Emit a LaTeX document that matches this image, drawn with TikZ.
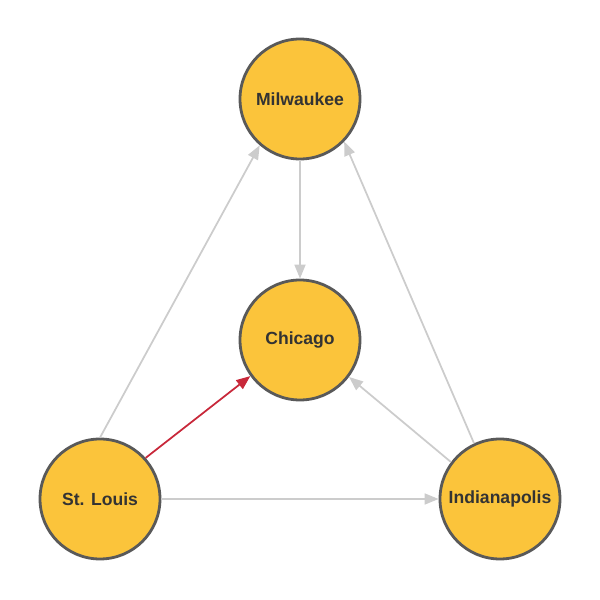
\documentclass[tikz,border=0pt]{standalone}
\usepackage{fontspec}
\setmainfont{Liberation Sans}
\usepackage{xcolor}
\usetikzlibrary{arrows.meta}

\definecolor{cityfill}{HTML}{FBC43B}
\definecolor{cityline}{HTML}{595959}
\definecolor{edgegray}{HTML}{CCCCCC}
\definecolor{edgered}{HTML}{C8283A}
\definecolor{citytext}{HTML}{333333}

\begin{document}
\begin{tikzpicture}[
    city/.style={circle, draw=cityline, line width=1.6pt, fill=cityfill, minimum size=2.4cm, inner sep=0pt, text=citytext, font=\fontsize{10}{12}\selectfont\bfseries},
    link_line/.style={draw=edgegray, line width=1pt, -{Triangle[length=0.28cm, width=0.22cm]}},
    hot_line/.style={draw=edgered, line width=1pt, -{Triangle[length=0.28cm, width=0.22cm]}}
]
    \useasboundingbox (0,0) rectangle (12,12);

    % Cities
    \node (mil) [city] at (6, 10.02) {Milwaukee};
    \node (chi) [city] at (6, 5.2) {Chicago};
    \node (stl) [city] at (2, 2.02) {St. Louis};
    \node (ind) [city] at (10, 2.02) {Indianapolis};

    % Routes
    \draw [link_line] (mil.south) -- (chi.north);
    \draw [link_line] (stl.90) -- (mil.229);
    \draw [link_line] (ind.115) -- (mil.316);
    \draw [link_line] (ind.143) -- (chi.323);
    \draw [link_line] (stl.east) -- (ind.west);
    \draw [hot_line] (stl.42) -- (chi.216);
\end{tikzpicture}
\end{document}
